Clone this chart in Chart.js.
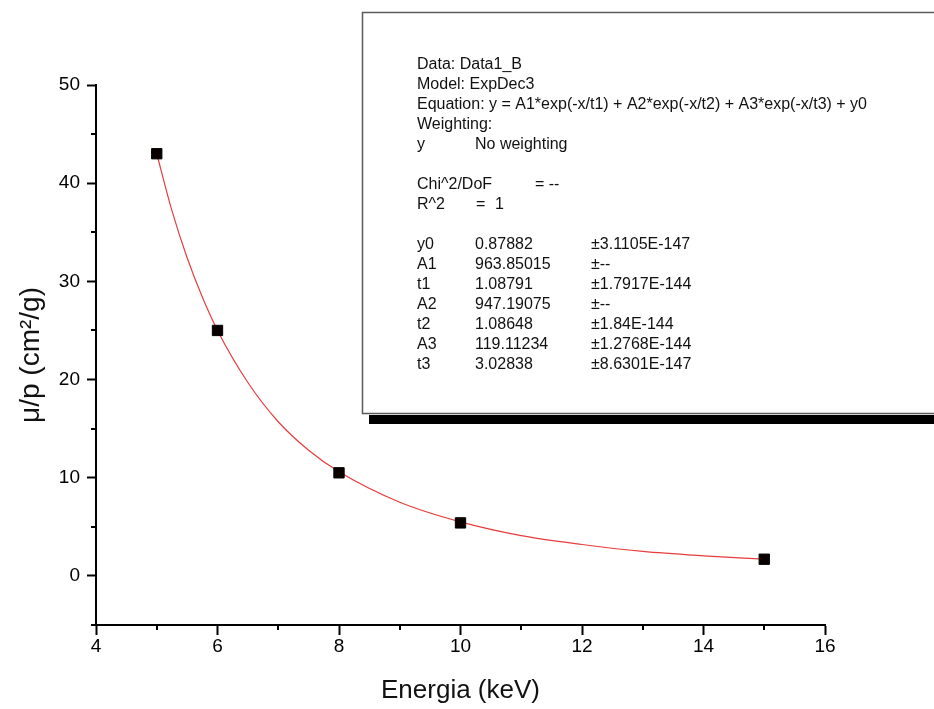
<!DOCTYPE html>
<html>
<head>
<meta charset="utf-8">
<script src="https://cdn.jsdelivr.net/npm/chart.js@4/dist/chart.umd.min.js"></script>
<style>
  html, body { margin: 0; padding: 0; background: #ffffff; }
  canvas { display: block; }
</style>
</head>
<body>
<canvas id="chart" width="934" height="709"></canvas>
<script>
// Measured attenuation coefficient versus photon energy
const energy = [5, 6, 8, 10, 15];
const mu = [43.0, 25.0, 10.5, 5.4, 1.7];

// Fitted ExpDec3 curve, sampled along the energy range
const fitEnergy = [5, 5.25, 5.5, 5.75, 6, 6.5, 7, 7.5, 8, 9, 10, 11, 12, 13, 14, 15];
const fitMu = [43.0, 37.2, 32.4, 28.4, 25.0, 19.7, 15.7, 12.8, 10.6, 7.5, 5.5, 4.1, 3.2, 2.5, 2.05, 1.7];

// Axis ticks
const xTicks = [4, 6, 8, 10, 12, 14, 16];
const xMinorTicks = [5, 7, 9, 11, 13, 15];
const yTicks = [0, 10, 20, 30, 40, 50];
const yMinorTicks = [-5, 5, 15, 25, 35, 45];

// Fit report
const fitHeader = [
  'Data: Data1_B',
  'Model: ExpDec3',
  'Equation: y = A1*exp(-x/t1) + A2*exp(-x/t2) + A3*exp(-x/t3) + y0',
  'Weighting:'
];
const weightingRow = ['y', 'No weighting'];
const chiRow = ['Chi^2/DoF', '= --'];
const r2Row = ['R^2', '=', '1'];
const paramNames = ['y0', 'A1', 't1', 'A2', 't2', 'A3', 't3'];
const paramValues = ['0.87882', '963.85015', '1.08791', '947.19075', '1.08648', '119.11234', '3.02838'];
const paramErrors = ['±3.1105E-147', '±--', '±1.7917E-144', '±--', '±1.84E-144', '±1.2768E-144', '±8.6301E-147'];

const FONT = '"Liberation Sans", Arial, Helvetica, sans-serif';

// Short unlabeled ticks between the major ones
const minorTicks = {
  id: 'minorTicks',
  afterDatasetsDraw(chart) {
    const { ctx, scales: { x, y } } = chart;
    ctx.save();
    ctx.strokeStyle = '#000';
    ctx.lineWidth = 2;
    ctx.beginPath();
    xMinorTicks.forEach(v => {
      const px = Math.round(x.getPixelForValue(v));
      ctx.moveTo(px, y.bottom);
      ctx.lineTo(px, y.bottom + 5);
    });
    yMinorTicks.forEach(v => {
      const py = Math.round(y.getPixelForValue(v));
      ctx.moveTo(x.left, py);
      ctx.lineTo(x.left - 5, py);
    });
    ctx.stroke();
    ctx.restore();
  }
};

// Framed fit report with a drop shadow
const reportBox = {
  id: 'reportBox',
  afterDraw(chart) {
    const ctx = chart.ctx;
    ctx.save();
    ctx.fillStyle = '#000';
    ctx.fillRect(369, 415, 934 - 369, 9);
    ctx.fillStyle = '#fff';
    ctx.fillRect(362, 12, 620, 402);
    ctx.strokeStyle = '#5a5a5a';
    ctx.lineWidth = 1.5;
    ctx.strokeRect(362.5, 12.5, 620, 401);

    ctx.fillStyle = '#111';
    ctx.font = '16px ' + FONT;
    ctx.textBaseline = 'alphabetic';
    const col1 = 417, col2 = 475, col3 = 591;
    const rowY = i => 69 + 20 * i;
    fitHeader.forEach((t, i) => ctx.fillText(t, col1, rowY(i)));
    ctx.fillText(weightingRow[0], col1, rowY(4));
    ctx.fillText(weightingRow[1], col2, rowY(4));
    ctx.fillText(chiRow[0], col1, rowY(6));
    ctx.fillText(chiRow[1], 535, rowY(6));
    ctx.fillText(r2Row[0], col1, rowY(7));
    ctx.fillText(r2Row[1], 476, rowY(7));
    ctx.fillText(r2Row[2], 495, rowY(7));
    paramNames.forEach((n, i) => {
      ctx.fillText(n, col1, rowY(9 + i));
      ctx.fillText(paramValues[i], col2, rowY(9 + i));
      ctx.fillText(paramErrors[i], col3, rowY(9 + i));
    });
    ctx.restore();
  }
};

new Chart(document.getElementById('chart'), {
  type: 'scatter',
  data: {
    datasets: [
      {
        label: 'Data1_B',
        data: energy.map((e, i) => ({ x: e, y: mu[i] })),
        pointStyle: 'rect',
        pointRadius: 7.3,
        pointHoverRadius: 7.3,
        backgroundColor: '#0a0000',
        borderColor: '#000',
        borderWidth: 1,
        showLine: false,
        order: 0
      },
      {
        label: 'ExpDec3 fit',
        data: fitEnergy.map((e, i) => ({ x: e, y: fitMu[i] })),
        showLine: true,
        pointRadius: 0,
        borderColor: 'rgb(232, 60, 60)',
        borderWidth: 1.2,
        cubicInterpolationMode: 'monotone',
        fill: false,
        order: 1
      }
    ]
  },
  options: {
    responsive: false,
    animation: false,
    devicePixelRatio: 1,
    layout: { padding: { left: 0, top: 85, right: 109, bottom: 0 } },
    plugins: {
      legend: { display: false },
      tooltip: { enabled: false },
      title: { display: false }
    },
    scales: {
      x: {
        type: 'linear',
        min: 4,
        max: 16,
        afterBuildTicks: s => { s.ticks = xTicks.map(v => ({ value: v })); },
        afterFit: s => { s.height = 84; },
        grid: { drawOnChartArea: false, drawTicks: true, tickLength: 10, tickColor: '#000', tickWidth: 2 },
        border: { display: true, color: '#000', width: 2 },
        ticks: { color: '#000', padding: 0, maxRotation: 0, font: { family: FONT, size: 19 } },
        title: {
          display: true,
          text: 'Energia (keV)',
          color: '#111',
          font: { family: FONT, size: 26 },
          padding: { top: 0, bottom: 3 }
        }
      },
      y: {
        type: 'linear',
        min: -5,
        max: 50,
        afterBuildTicks: s => { s.ticks = yTicks.map(v => ({ value: v })); },
        afterFit: s => { s.width = 96; },
        grid: { drawOnChartArea: false, drawTicks: true, tickLength: 9, tickColor: '#000', tickWidth: 2 },
        border: { display: true, color: '#000', width: 2 },
        ticks: { color: '#000', padding: 7, font: { family: FONT, size: 19 } },
        title: {
          display: true,
          text: 'μ/p (cm²/g)',
          color: '#111',
          font: { family: FONT, size: 28 },
          padding: { top: 14, bottom: 0 }
        }
      }
    }
  },
  plugins: [minorTicks, reportBox]
});
</script>
</body>
</html>
